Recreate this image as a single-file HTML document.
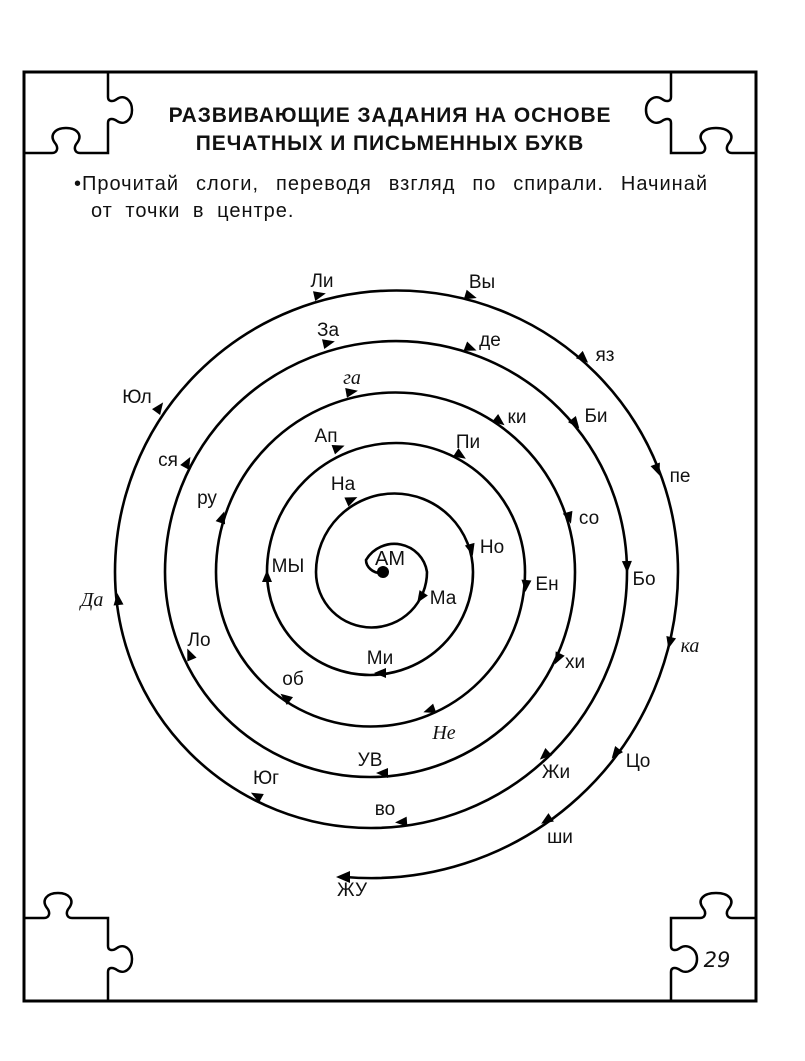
<!DOCTYPE html>
<html><head><meta charset="utf-8"><style>
html,body{margin:0;padding:0;background:#fff;}
body{width:805px;height:1061px;position:relative;overflow:hidden;font-family:"Liberation Sans",sans-serif;color:#111;}
.t{position:absolute;left:24px;width:732px;text-align:center;font-weight:bold;font-size:21px;letter-spacing:0.9px;}
.b{position:absolute;font-size:20px;letter-spacing:1px;}
svg{position:absolute;left:0;top:0;}
svg text{font-family:"Liberation Sans",sans-serif;font-size:19px;fill:#111;text-anchor:middle;}
svg text.c{font-family:"Liberation Serif",serif;font-style:italic;font-size:20px;}
</style></head><body>
<svg width="805" height="1061" viewBox="0 0 805 1061">
<defs><polygon id="ar" points="7,0 -5,-5 -5,5" fill="#000"/></defs>
<rect x="24" y="72" width="732" height="929" fill="none" stroke="#000" stroke-width="3"/>
<g fill="none" stroke="#000" stroke-width="2.5">
<path d="M24,153 H52 C57,153 59,148 55,143 C49,135 55,128 66,128 C77,128 83,135 77,143 C73,148 75,153 80,153 H108 V123 C108,118 113,118 117,121 C124,126 132,120 132,110 C132,100 124,94 117,99 C113,102 108,102 108,97 V72"/>
<path d="M756,153 H732 C727,153 725,148 729,143 C735,135 729,128 716,128 C703,128 697,135 703,143 C707,148 705,153 700,153 H671 V123 C671,118 666,118 662,121 C655,126 646,120 646,110 C646,100 655,94 662,99 C666,102 671,102 671,97 V72"/>
<path d="M24,918 H44 C49,918 51,913 47,908 C41,900 47,893 58,893 C69,893 75,900 69,908 C65,913 67,918 72,918 H108 V946 C108,951 113,951 117,948 C124,943 132,949 132,959 C132,969 124,975 117,970 C113,967 108,967 108,972 V1001"/>
<path d="M756,918 H732 C727,918 725,913 729,908 C735,900 729,893 716,893 C703,893 697,900 703,908 C707,913 705,918 700,918 H671 V946 C671,951 676,951 680,948 C687,943 697,949 697,959 C697,969 687,975 680,970 C676,967 671,967 671,972 V1001"/>
</g>
<text x="717" y="967" style="font-family:'DejaVu Sans',sans-serif;font-style:italic;font-size:21px">29</text>
<path fill="none" stroke="#000" stroke-width="2.6" d="M383,573 C372,574 366,566 366,560 A33,33 0 0 1 427,572 A55.5,55.5 0 0 1 316,572 A78.5,78.5 0 0 1 473,572 A103,103 0 0 1 267,572 A129,129 0 0 1 525,572 A154.5,154.5 0 0 1 216,572 A179.5,179.5 0 0 1 575,572 A205,205 0 0 1 165,572 A231,231 0 0 1 627,572 A256,256 0 0 1 115,572 A281.5,281.5 0 0 1 678,572 A307,307 0 0 1 345,877"/>
<circle cx="383" cy="572" r="6" fill="#000"/>
<polygon points="336,877 350,871 350,883" fill="#000"/>
<g>
<use href="#ar" transform="translate(319,295) rotate(-13)"/>
<use href="#ar" transform="translate(470,296) rotate(17)"/>
<use href="#ar" transform="translate(583,358) rotate(43)"/>
<use href="#ar" transform="translate(657,469) rotate(69)"/>
<use href="#ar" transform="translate(627,566) rotate(89)"/>
<use href="#ar" transform="translate(670,642) rotate(104)"/>
<use href="#ar" transform="translate(616,753) rotate(128)"/>
<use href="#ar" transform="translate(547,820) rotate(147)"/>
<use href="#ar" transform="translate(159,408) rotate(-54)"/>
<use href="#ar" transform="translate(187,463) rotate(-61)"/>
<use href="#ar" transform="translate(118,600) rotate(-96)"/>
<use href="#ar" transform="translate(190,655) rotate(-113)"/>
<use href="#ar" transform="translate(257,796) rotate(-151)"/>
<use href="#ar" transform="translate(402,822) rotate(176)"/>
<use href="#ar" transform="translate(545,755) rotate(138)"/>
<use href="#ar" transform="translate(328,343) rotate(-13)"/>
<use href="#ar" transform="translate(470,348) rotate(21)"/>
<use href="#ar" transform="translate(575,423) rotate(52)"/>
<use href="#ar" transform="translate(569,517) rotate(74)"/>
<use href="#ar" transform="translate(558,658) rotate(116)"/>
<use href="#ar" transform="translate(383,773) rotate(180)"/>
<use href="#ar" transform="translate(222,518) rotate(-71)"/>
<use href="#ar" transform="translate(286,698) rotate(-142)"/>
<use href="#ar" transform="translate(430,710) rotate(161)"/>
<use href="#ar" transform="translate(351,392) rotate(-10)"/>
<use href="#ar" transform="translate(499,421) rotate(38)"/>
<use href="#ar" transform="translate(526,585) rotate(95)"/>
<use href="#ar" transform="translate(381,673) rotate(180)"/>
<use href="#ar" transform="translate(267,577) rotate(-90)"/>
<use href="#ar" transform="translate(338,448) rotate(-20)"/>
<use href="#ar" transform="translate(460,455) rotate(33)"/>
<use href="#ar" transform="translate(471,549) rotate(75)"/>
<use href="#ar" transform="translate(421,597) rotate(123)"/>
<use href="#ar" transform="translate(351,500) rotate(-24)"/>
</g>
<text x="322" y="287">Ли</text>
<text x="482" y="288">Вы</text>
<text x="328" y="336">За</text>
<text x="490" y="346">де</text>
<text x="605" y="361">яз</text>
<text x="137" y="403">Юл</text>
<text class="c" x="352" y="384">га</text>
<text x="517" y="423">ки</text>
<text x="596" y="422">Би</text>
<text x="326" y="442">Ап</text>
<text x="468" y="448">Пи</text>
<text x="168" y="466">ся</text>
<text x="680" y="482">пе</text>
<text x="207" y="504">ру</text>
<text x="343" y="490">На</text>
<text x="589" y="524">со</text>
<text x="492" y="553">Но</text>
<text x="288" y="572">МЫ</text>
<text x="390" y="565" style="font-size:20px">АМ</text>
<text x="547" y="590">Ен</text>
<text x="644" y="585">Бо</text>
<text class="c" x="92" y="606">Да</text>
<text x="443" y="604">Ма</text>
<text class="c" x="690" y="652">ка</text>
<text x="199" y="646">Ло</text>
<text x="575" y="668">хи</text>
<text x="380" y="664">Ми</text>
<text x="293" y="685">об</text>
<text class="c" x="444" y="739">Не</text>
<text x="370" y="766">УВ</text>
<text x="638" y="767">Цо</text>
<text x="266" y="784">Юг</text>
<text x="556" y="778">Жи</text>
<text x="385" y="815">во</text>
<text x="560" y="843">ши</text>
<text x="352" y="896">ЖУ</text>
</svg>
<div class="t" style="top:104px">РАЗВИВАЮЩИЕ ЗАДАНИЯ НА ОСНОВЕ</div>
<div class="t" style="top:132px">ПЕЧАТНЫХ И ПИСЬМЕННЫХ БУКВ</div>
<div class="b" style="left:74px;top:173px;width:634px;text-align:justify;text-align-last:justify;">•Прочитай слоги, переводя взгляд по спирали. Начинай</div>
<div class="b" style="left:91px;top:200px;word-spacing:6px;">от точки в центре.</div>
</body></html>
